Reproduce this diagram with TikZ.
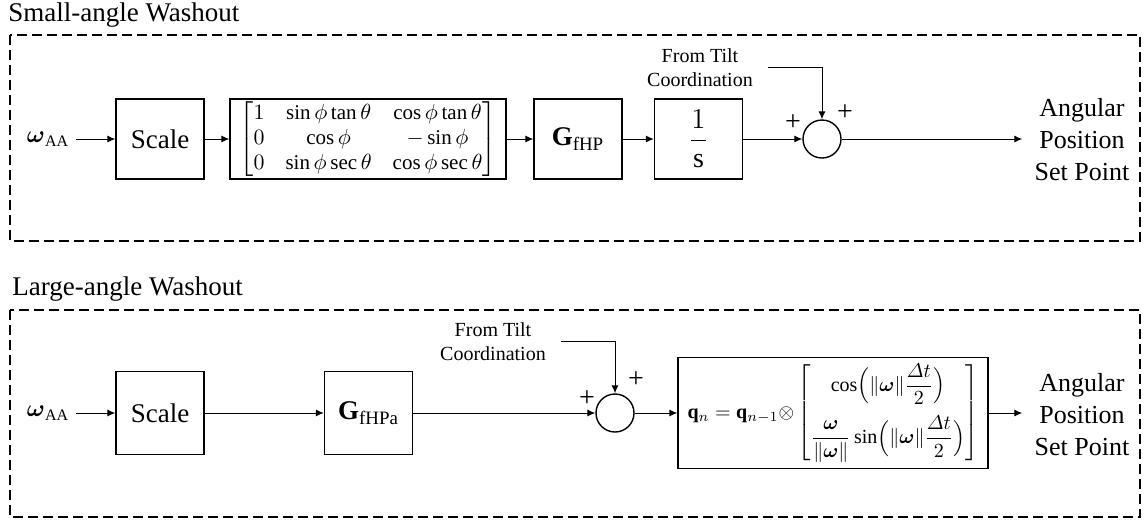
\documentclass[tikz,border=0pt]{standalone}
\usepackage{amsmath,amssymb}
\usepackage{fontspec}
\setmainfont{Liberation Serif}
\usetikzlibrary{arrows.meta}

\begin{document}
\begin{tikzpicture}[x=0.5pt, y=-0.5pt, >={Latex[length=4pt,width=3.5pt]},
  blk/.style={draw, line width=0.7pt, minimum width=44pt, minimum height=40pt, inner sep=1pt, font=\fontsize{13.5}{16}\selectfont},
  sumnode/.style={draw, circle, line width=0.7pt, minimum size=19pt, inner sep=0pt},
  washbox/.style={draw, line width=0.6pt, dash pattern=on 5pt off 2.5pt},
  ttl/.style={anchor=base west, inner sep=0pt, font=\fontsize{13.5}{16}\selectfont},
  outtxt/.style={align=center, inner sep=6pt, font=\fontsize{13}{16}\selectfont},
  tilt/.style={align=center, inner sep=0pt, font=\fontsize{10}{12}\selectfont},
  sgn/.style={inner sep=0pt, font=\fontsize{14}{14}\selectfont},
  conn/.style={line width=0.5pt}]
\useasboundingbox (0,0) rectangle (1147,521);

% Small-angle
\node[ttl] (ttlA) at (8,21) {Small-angle Washout};
\draw[washbox] (10,35) rectangle (1140,241);
\node[font=\fontsize{12}{14}\selectfont] (omegaA) at (48,139) {$\boldsymbol{\omega}_{\mathrm{AA}}$};
\node[blk] (scaleA) at (160,139) {Scale};
\node[blk, minimum width=138pt, inner xsep=4pt, font=\fontsize{10.5}{12.5}\selectfont] (matA) at (368,139)
  {$\left[\begin{array}{@{}l@{\quad}c@{\quad}c@{}}1 & \sin\phi\tan\theta & \cos\phi\tan\theta\\ 0 & \cos\phi & -\sin\phi\\ 0 & \sin\phi\sec\theta & \cos\phi\sec\theta\end{array}\right]$};
\node[blk] (gA) at (578,139) {$\mathbf{G}_{\mathrm{fHP}}$};
\node[blk, font=\fontsize{14}{16}\selectfont] (intA) at (698.5,139) {$\dfrac{1}{\mathrm{s}}$};
\node[sumnode] (sumA) at (822,139) {};
\node[outtxt] (outA) at (1082,140) {Angular\\Position\\Set Point};
\node[tilt] (tiltTxtA) at (700,68) {From Tilt\\Coordination};
\coordinate (tiltA) at (768,67);
\node[sgn] (plusA1) at (793,123) {+};
\node[sgn] (plusA2) at (845,113) {+};
\draw[conn, ->] (omegaA) -- (scaleA);
\draw[conn, ->] (scaleA) -- (matA);
\draw[conn, ->] (matA) -- (gA);
\draw[conn, ->] (gA) -- (intA);
\draw[conn, ->] (intA) -- (sumA);
\draw[conn, ->] (tiltA) -| (sumA.north);
\draw[conn, ->] (sumA.east) -- (sumA.east -| outA.west);

% Large-angle
\node[ttl] (ttlB) at (12,295) {Large-angle Washout};
\draw[washbox] (10,310) rectangle (1140,517);
\node[font=\fontsize{12}{14}\selectfont] (omegaB) at (48,413) {$\boldsymbol{\omega}_{\mathrm{AA}}$};
\node[blk, minimum height=41.5pt] (scaleB) at (160,413) {Scale};
\node[blk, minimum height=41.5pt] (gB) at (368.5,413) {$\mathbf{G}_{\mathrm{fHPa}}$};
\node[sumnode] (sumB) at (615,413) {};
\node[blk, minimum width=155pt, minimum height=55.5pt, font=\fontsize{10}{12}\selectfont] (quatB) at (833,413)
  {$\mathbf{q}_n = \mathbf{q}_{n-1}{\otimes}\left[\begin{array}{@{}c@{}}\cos\Bigl(\|\boldsymbol{\omega}\|\dfrac{\varDelta t}{2}\Bigr)\\[9pt] \dfrac{\boldsymbol{\omega}}{\|\boldsymbol{\omega}\|}\sin\Bigl(\|\boldsymbol{\omega}\|\dfrac{\varDelta t}{2}\Bigr)\end{array}\right]$};
\node[outtxt] (outB) at (1082,415) {Angular\\Position\\Set Point};
\node[tilt] (tiltTxtB) at (493,342) {From Tilt\\Coordination};
\coordinate (tiltB) at (561,341);
\node[sgn] (plusB1) at (587,399) {+};
\node[sgn] (plusB2) at (636,380) {+};
\draw[conn, ->] (omegaB) -- (scaleB);
\draw[conn, ->] (scaleB) -- (gB);
\draw[conn, ->] (gB) -- (sumB);
\draw[conn, ->] (sumB) -- (quatB);
\draw[conn, ->] (tiltB) -| (sumB.north);
\draw[conn, ->] (quatB.east) -- (quatB.east -| outB.west);
\end{tikzpicture}
\end{document}
